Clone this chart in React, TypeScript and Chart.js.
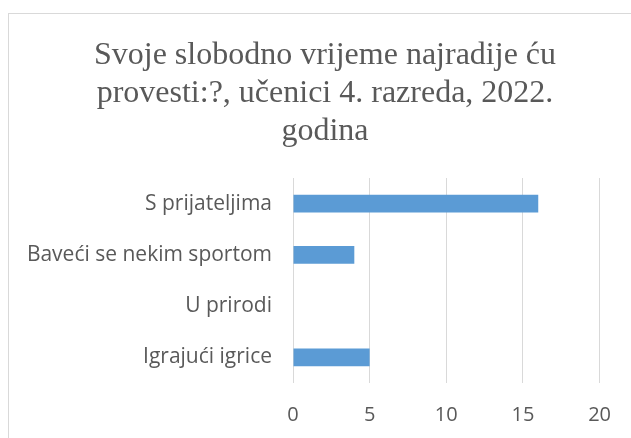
import React, { useEffect, useRef } from "react";
import { Chart, registerables } from "chart.js";

Chart.register(...registerables);

const categories = ["S prijateljima", "Baveći se nekim sportom", "U prirodi", "Igrajući igrice"];
const values = [16, 4, 0, 5];
const titleLines = ["Svoje slobodno vrijeme najradije ću", "provesti:?, učenici 4. razreda, 2022.", "godina"];
const xMin = 0;
const xMax = 20;
const xStep = 5;

const CW = 631;
const CH = 438;

const titlePlugin = {
  id: "multiTitle",
  afterDraw(chart: any) {
    const ctx = chart.ctx;
    ctx.save();
    ctx.fillStyle = "#595959";
    ctx.font = "32px 'Liberation Serif', 'Times New Roman', serif";
    ctx.textAlign = "center";
    ctx.textBaseline = "alphabetic";
    const cx = 325;
    const firstBaseline = 64;
    const lh = 38;
    titleLines.forEach((t, i) => ctx.fillText(t, cx, firstBaseline + i * lh));
    ctx.restore();
  },
};

export default function App() {
  const ref = useRef<HTMLCanvasElement | null>(null);
  useEffect(() => {
    if (!ref.current) return;
    const chart = new Chart(ref.current, {
      type: "bar",
      data: {
        labels: categories,
        datasets: [
          {
            data: values,
            backgroundColor: "#5B9BD5",
            borderWidth: 0,
            categoryPercentage: 1,
            barPercentage: 0.351,
          },
        ],
      },
      options: {
        indexAxis: "y",
        animation: false,
        responsive: false,
        devicePixelRatio: 1,
        layout: { padding: { left: 0, right: 29, top: 178, bottom: 0 } },
        plugins: {
          legend: { display: false },
          tooltip: { enabled: false },
          title: { display: false },
        },
        scales: {
          x: {
            min: xMin,
            max: xMax,
            ticks: {
              stepSize: xStep,
              color: "#595959",
              font: { family: "'Open Sans', sans-serif", size: 20 },
              padding: 20,
            },
            grid: { color: "#d9d9d9", drawTicks: false, lineWidth: 1 },
            border: { display: false },
            afterFit: (s: any) => { s.height = 55; },
          },
          y: {
            ticks: {
              color: "#595959",
              font: { family: "'Open Sans', sans-serif", size: 21 },
              padding: 21,
            },
            grid: { display: false, drawTicks: false },
            border: { display: false },
            afterFit: (s: any) => { s.width = 293; },
          },
        },
      },
      plugins: [titlePlugin],
    });
    return () => chart.destroy();
  }, []);
  return (
    <div style={{ position: "fixed", left: 0, top: 0, width: 631, height: 438, background: "#fff", overflow: "hidden" }}>
      <div style={{ position: "absolute", left: 8, top: 13, width: 700, height: 500, border: "1px solid #d9d9d9", boxSizing: "border-box" }} />
      <canvas
        ref={ref}
        width={CW}
        height={CH}
        style={{ position: "absolute", left: 0, top: 0, width: CW, height: CH }}
      />
    </div>
  );
}
